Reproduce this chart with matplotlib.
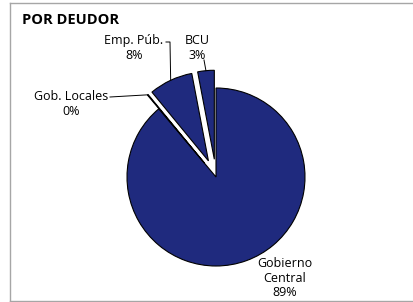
import numpy as np
import matplotlib.pyplot as plt
from matplotlib.lines import Line2D

plt.rcParams['font.family'] = ['Open Sans', 'DejaVu Sans']

labels = ['Gobierno\nCentral', 'Gob. Locales', 'Emp. Púb.', 'BCU']
values = [88.9, 0.15, 7.95, 3.0]
pct_text = ['89%', '0%', '8%', '3%']
explode = [0.0, 0.2, 0.2, 0.2]
navy = '#1f2a7e'

W, H = 413, 302
R = 89.0          # pie radius in pixels
cx, cy = 216, 125  # pie centre in pixels (from bottom)

fig = plt.figure(figsize=(W / 100, H / 100), dpi=100)
ax = fig.add_axes([0, 0, 1, 1])
ax.axis('off')

wedges, _ = ax.pie(values, explode=explode, startangle=90, counterclock=False,
                   colors=[navy] * 4, radius=1.0,
                   wedgeprops=dict(edgecolor='black', linewidth=0.8))
ax.set_xlim(-cx / R, (W - cx) / R)
ax.set_ylim(-cy / R, (H - cy) / R)
ax.set_aspect('equal')


def px(x, y_top):
    # pixel position (from top-left) -> data coords
    return (x - cx) / R, (H - y_top - cy) / R


def edge_point(i, r=1.0):
    frac = sum(values[:i]) + values[i] / 2
    ang = np.deg2rad(90 - frac / sum(values) * 360)
    rr = r + explode[i]
    return rr * np.cos(ang), rr * np.sin(ang)


fs = 9
ls = 1.15
# Gobierno Central
ax.text(*px(285, 278), labels[0] + '\n' + pct_text[0], ha='center', va='center',
        fontsize=fs, linespacing=ls)

# Gob. Locales
ax.text(*px(71, 104), labels[1] + '\n' + pct_text[1], ha='center', va='center',
        fontsize=fs, linespacing=ls)
ex, ey = edge_point(1)
p0 = px(110, 97)
ax.plot([p0[0], ex], [p0[1], ey], color='black', lw=0.7)

# Emp. Púb.
ax.text(*px(134, 48), labels[2] + '\n' + pct_text[2], ha='center', va='center',
        fontsize=fs, linespacing=ls)
ex, ey = edge_point(2)
p0 = px(166, 42)
p1 = px(170, 42)
ax.plot([p0[0], p1[0], ex], [p0[1], p1[1], ey], color='black', lw=0.7)

# BCU
ax.text(*px(197, 48), labels[3] + '\n' + pct_text[3], ha='center', va='center',
        fontsize=fs, linespacing=ls)
ex, ey = edge_point(3)
p0 = px(204, 60)
ax.plot([p0[0], ex], [p0[1], ey], color='black', lw=0.7)

fig.text(22 / W, 1 - 19.5 / H, 'POR DEUDOR', fontsize=10.5, fontweight='bold',
         ha='left', va='center')

# frame (left, top, bottom only)
bx0, by0, by1 = 9.5 / W, 1 - 300.5 / H, 1 - 2.5 / H
for xs, ys in [([bx0, bx0], [by0, by1]), ([bx0, 1.0], [by1, by1]), ([bx0, 1.0], [by0, by0])]:
    fig.lines.append(Line2D(xs, ys, transform=fig.transFigure, color='#a6a6a6', lw=1.0))

fig.savefig('out.png', dpi=100)
